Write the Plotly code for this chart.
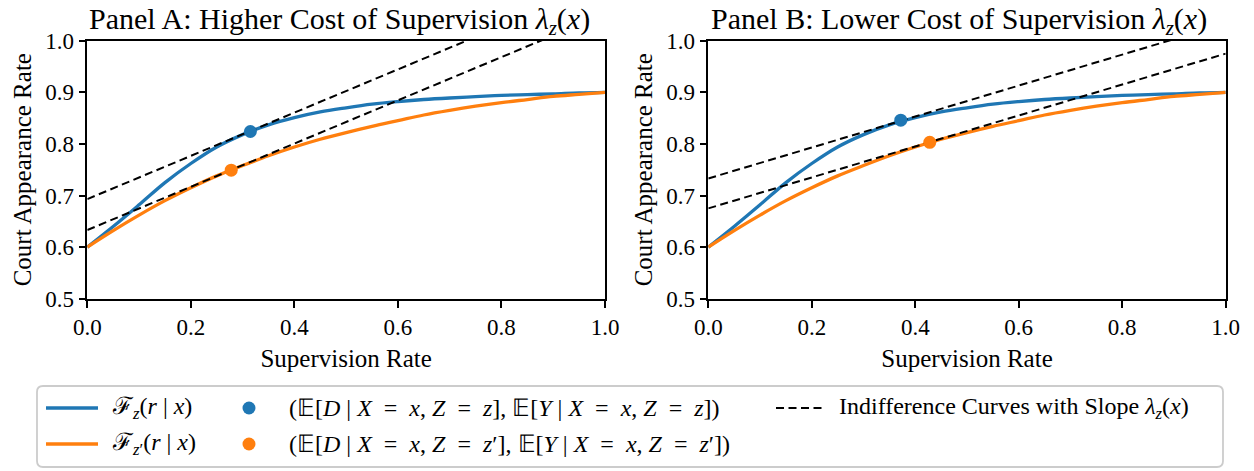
import plotly.graph_objects as go

W, H = 1254, 471
OFF = 0  # body margin removed below

# ---------------- data ----------------
supervision_rate = [0.00, 0.05, 0.10, 0.15, 0.20, 0.25, 0.30, 0.35, 0.40, 0.45, 0.50,
                    0.55, 0.60, 0.65, 0.70, 0.75, 0.80, 0.85, 0.90, 0.95, 1.00]
appearance_z = [0.600, 0.640, 0.682, 0.725, 0.762, 0.794, 0.818, 0.837, 0.851, 0.862, 0.870,
                0.877, 0.882, 0.886, 0.889, 0.8915, 0.894, 0.8955, 0.897, 0.899, 0.900]
appearance_zprime = [0.600, 0.632, 0.662, 0.690, 0.715, 0.738, 0.758, 0.777, 0.794, 0.809, 0.822,
                     0.834, 0.845, 0.856, 0.865, 0.873, 0.880, 0.886, 0.892, 0.896, 0.900]

# observed points (E[D], E[Y]) for z (blue) and z' (orange)
points_A_x = [0.315, 0.278]
points_A_y = [0.824, 0.749]
points_B_x = [0.372, 0.428]
points_B_y = [0.846, 0.803]

# indifference lines: value at x = 0 and x = 1
indiff_x = [0.0, 1.0]
indiff_A_upper = [0.693, 1.112]
indiff_A_lower = [0.633, 1.052]
indiff_B_upper = [0.733, 1.033]
indiff_B_lower = [0.675, 0.975]

x_ticks = [0.0, 0.2, 0.4, 0.6, 0.8, 1.0]
y_ticks = [0.5, 0.6, 0.7, 0.8, 0.9, 1.0]

panel_titles = ["Panel A: Higher Cost of Supervision <i>λ</i><sub><i>z</i></sub>(<i>x</i>)",
                "Panel B: Lower Cost of Supervision <i>λ</i><sub><i>z</i></sub>(<i>x</i>)"]

BLUE = "#1f77b4"
ORANGE = "#ff7f0e"
FONT = "Liberation Serif, Times New Roman, serif"


def px(x):
    return (x - OFF) / W


def py(y):
    return 1 - (y - OFF) / H


fig = go.Figure()

panels = [
    ("x", "y", points_A_x, points_A_y, indiff_A_upper, indiff_A_lower),
    ("x2", "y2", points_B_x, points_B_y, indiff_B_upper, indiff_B_lower),
]
for xa, ya, ptx, pty, up, lo in panels:
    fig.add_trace(go.Scatter(x=supervision_rate, y=appearance_z, mode="lines",
                             line=dict(color=BLUE, width=3.3, shape="spline"),
                             xaxis=xa, yaxis=ya, showlegend=False))
    fig.add_trace(go.Scatter(x=supervision_rate, y=appearance_zprime, mode="lines",
                             line=dict(color=ORANGE, width=3.3, shape="spline"),
                             xaxis=xa, yaxis=ya, showlegend=False))
    for line_y in (up, lo):
        fig.add_trace(go.Scatter(x=indiff_x, y=line_y, mode="lines",
                                 line=dict(color="black", width=2, dash="8px,4.5px"),
                                 xaxis=xa, yaxis=ya, showlegend=False))
    fig.add_trace(go.Scatter(x=ptx, y=pty, mode="markers",
                             marker=dict(color=[BLUE, ORANGE], size=13, line=dict(width=0)),
                             xaxis=xa, yaxis=ya, showlegend=False, cliponaxis=False))

axis_common = dict(showline=True, linecolor="black", linewidth=1.6, mirror=True,
                   ticks="outside", ticklen=7, tickwidth=1.6, tickcolor="black",
                   showgrid=False, zeroline=False, automargin=False,
                   tickfont=dict(family=FONT, size=23, color="black"))

y_dom = [py(298.7), py(40.7)]
x_doms = [[px(87.3), px(605.0)], [px(708.3), px(1225.7)]]

for i, xd in enumerate(x_doms):
    sfx = "" if i == 0 else str(i + 1)
    fig.update_layout(**{
        "xaxis" + sfx: dict(axis_common, domain=xd, range=[0, 1], tickvals=x_ticks,
                            tickformat=".1f", anchor="y" + sfx,
                            title=dict(text="Supervision Rate", standoff=10,
                                       font=dict(family=FONT, size=25, color="black"))),
        "yaxis" + sfx: dict(axis_common, domain=y_dom, range=[0.5, 1.0], tickvals=y_ticks,
                            tickformat=".1f", anchor="x" + sfx,
                            title=dict(text="Court Appearance Rate", standoff=6,
                                       font=dict(family=FONT, size=25, color="black"))),
    })

annotations = []
title_left = [87, 709]
for i, t in enumerate(panel_titles):
    annotations.append(dict(text=t, x=px(title_left[i]), y=py(21), xref="paper", yref="paper",
                            xanchor="left", yanchor="middle", showarrow=False,
                            font=dict(family=FONT, size=30, color="black")))

# ---------------- legend (drawn as a framed box) ----------------
shapes = []
bx0, by0, bx1, by1, r = 37, 386, 1223, 467, 6
path = (f"M {px(bx0 + r)},{py(by0)} L {px(bx1 - r)},{py(by0)} "
        f"Q {px(bx1)},{py(by0)} {px(bx1)},{py(by0 + r)} "
        f"L {px(bx1)},{py(by1 - r)} Q {px(bx1)},{py(by1)} {px(bx1 - r)},{py(by1)} "
        f"L {px(bx0 + r)},{py(by1)} Q {px(bx0)},{py(by1)} {px(bx0)},{py(by1 - r)} "
        f"L {px(bx0)},{py(by0 + r)} Q {px(bx0)},{py(by0)} {px(bx0 + r)},{py(by0)} Z")
shapes.append(dict(type="path", path=path, xref="paper", yref="paper",
                   line=dict(color="#cccccc", width=1.8), fillcolor="white", layer="below"))

row_y = [408, 444]
for ry, col in zip(row_y, [BLUE, ORANGE]):
    shapes.append(dict(type="line", xref="paper", yref="paper",
                       x0=px(46), x1=px(98), y0=py(ry), y1=py(ry),
                       line=dict(color=col, width=3.3)))
    rad = 6.5
    shapes.append(dict(type="circle", xref="paper", yref="paper",
                       x0=px(249 - rad), x1=px(249 + rad), y0=py(ry + rad), y1=py(ry - rad),
                       fillcolor=col, line=dict(width=0)))
shapes.append(dict(type="line", xref="paper", yref="paper",
                   x0=px(776), x1=px(826), y0=py(row_y[0]), y1=py(row_y[0]),
                   line=dict(color="black", width=2, dash="8px,4.5px")))

EQ = "\u2002=\u2002"
legend_texts = [
    (110, row_y[0], "ℱ<sub><i>z</i></sub>(<i>r</i> | <i>x</i>)"),
    (110, row_y[1], "ℱ<sub><i>z</i>′</sub>(<i>r</i> | <i>x</i>)"),
    (287, row_y[0], f"(𝔼[<i>D</i> | <i>X</i>{EQ}<i>x</i>, <i>Z</i>{EQ}<i>z</i>], "
                    f"𝔼[<i>Y</i> | <i>X</i>{EQ}<i>x</i>, <i>Z</i>{EQ}<i>z</i>])"),
    (287, row_y[1], f"(𝔼[<i>D</i> | <i>X</i>{EQ}<i>x</i>, <i>Z</i>{EQ}<i>z</i>′], "
                    f"𝔼[<i>Y</i> | <i>X</i>{EQ}<i>x</i>, <i>Z</i>{EQ}<i>z</i>′])"),
    (837, row_y[0], "Indifference Curves with Slope <i>λ</i><sub><i>z</i></sub>(<i>x</i>)"),
]
for lx, ly, t in legend_texts:
    annotations.append(dict(text=t, x=px(lx), y=py(ly), xref="paper", yref="paper",
                            xanchor="left", yanchor="middle", showarrow=False,
                            font=dict(family=FONT, size=24, color="black")))

fig.update_layout(width=W, height=H, margin=dict(l=0, r=0, t=0, b=0, pad=0),
                  paper_bgcolor="white", plot_bgcolor="white",
                  font=dict(family=FONT, color="black"),
                  showlegend=False, annotations=annotations, shapes=shapes)

fig.write_html("out.html", config={"displayModeBar": False},
               post_script="document.body.style.margin='0px';")
